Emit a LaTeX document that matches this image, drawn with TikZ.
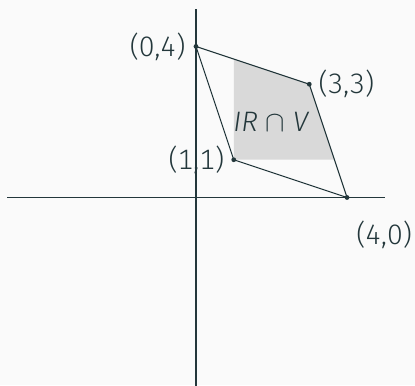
\documentclass[tikz,border=0pt]{standalone}
\usepackage{fontspec}
\setmainfont{Fira Sans}[UprightFont=* Light,ItalicFont=* Light Italic,BoldFont=*,Numbers=Monospaced]
\definecolor{mDark}{HTML}{23373B}
\definecolor{mBg}{HTML}{FAFAFA}
\definecolor{mShade}{HTML}{D9D9D9}
\begin{document}
\begin{tikzpicture}[x=0.5cm,y=0.5cm,
  every node/.style={text=mDark,font=\fontsize{10.6}{12}\selectfont},
  axis/.style={draw=mDark,line width=0.4pt},
  edge/.style={draw=mDark,line width=0.4pt},
  pt/.style={fill=mDark,draw=none}]
\fill[mBg] (-5.19,-4.97) rectangle (5.80,5.23);
\useasboundingbox (-5.19,-4.97) rectangle (5.80,5.23);
% shaded region
\fill[mShade] (1,1) -- (1,11/3) -- (3,3) -- (11/3,1) -- cycle;
% axes
\coordinate (xl) at (-5,0);
\coordinate (xr) at (5,0);
\coordinate (yb) at (0,-5);
\coordinate (yt) at (0,5);
\draw[axis] (xl) -- (xr);
\draw[axis] (yb) -- (yt);
% vertices
\coordinate (P04) at (0,4);
\coordinate (P33) at (3,3);
\coordinate (P40) at (4,0);
\coordinate (P11) at (1,1);
\draw[edge] (P04) -- (P33) -- (P40) -- (P11) -- cycle;
\foreach \p in {P04,P33,P40,P11} \fill[pt] (\p) circle (0.9pt);
% labels
\node[anchor=east,inner sep=0pt,xshift=-3.8pt] (L04) at (P04) {(0,4)};
\node[anchor=west,inner sep=0pt,xshift=3.3pt] (L33) at (P33) {(3,3)};
\node[anchor=east,inner sep=0pt,xshift=-3.4pt] (L11) at (P11) {(1,1)};
\node[anchor=north west,inner sep=0pt,xshift=3.3pt,yshift=-8.5pt] (L40) at (P40) {(4,0)};
\node (R) at (1.98,2.0) {\itshape IR $\cap$ V};
\end{tikzpicture}
\end{document}
